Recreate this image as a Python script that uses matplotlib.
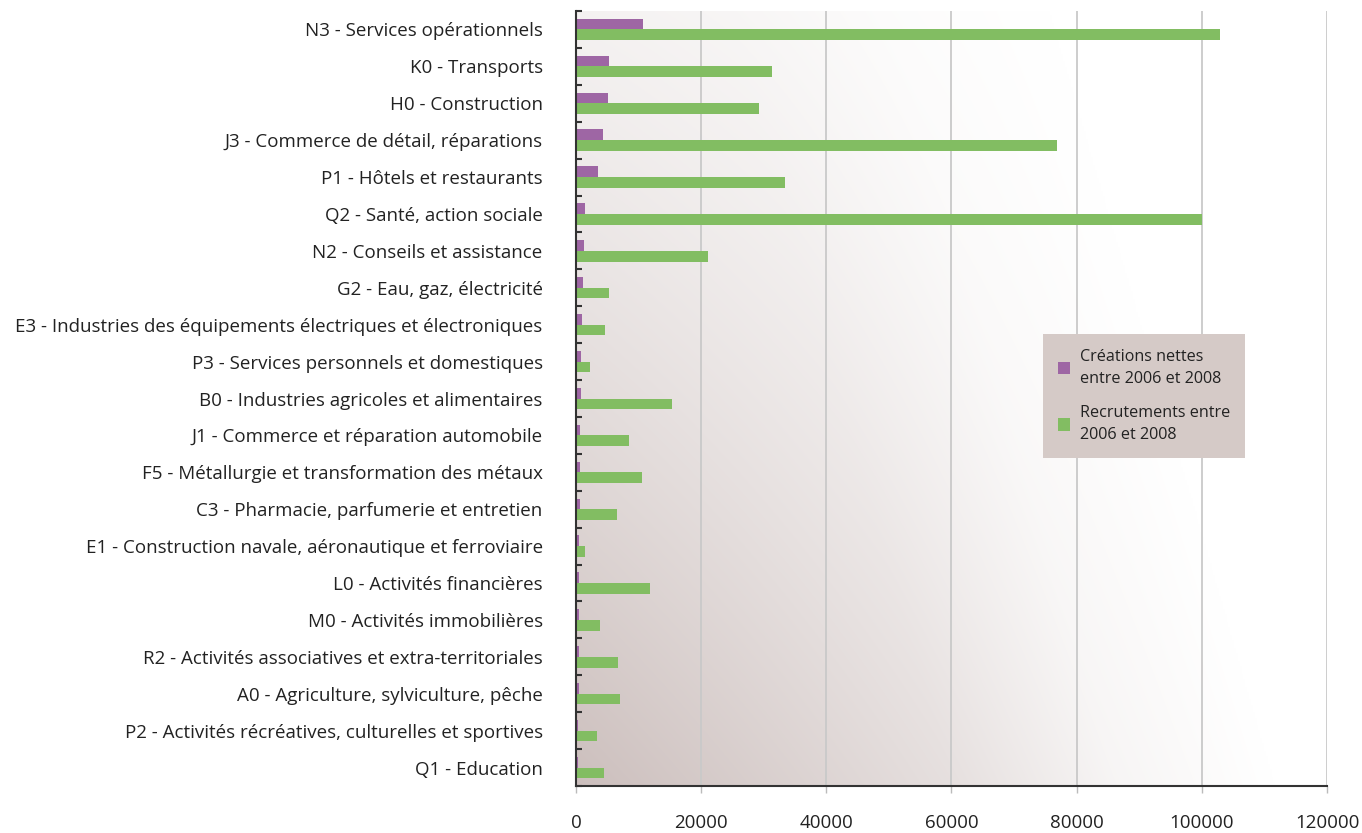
import numpy as np
import matplotlib
matplotlib.use("Agg")
import matplotlib.pyplot as plt
from matplotlib.patches import Patch

plt.rcParams['font.family'] = ['Open Sans', 'DejaVu Sans']

secteurs = [
    "N3 - Services opérationnels",
    "K0 - Transports",
    "H0 - Construction",
    "J3 - Commerce de détail, réparations",
    "P1 - Hôtels et restaurants",
    "Q2 - Santé, action sociale",
    "N2 - Conseils et assistance",
    "G2 - Eau, gaz, électricité",
    "E3 - Industries des équipements électriques et électroniques",
    "P3 - Services personnels et domestiques",
    "B0 - Industries agricoles et alimentaires",
    "J1 - Commerce et réparation automobile",
    "F5 - Métallurgie et transformation des métaux",
    "C3 - Pharmacie, parfumerie et entretien",
    "E1 - Construction navale, aéronautique et ferroviaire",
    "L0 - Activités financières",
    "M0 - Activités immobilières",
    "R2 - Activités associatives et extra-territoriales",
    "A0 - Agriculture, sylviculture, pêche",
    "P2 - Activités récréatives, culturelles et sportives",
    "Q1 - Education",
]
creations = [10700, 5300, 5100, 4300, 3500, 1400, 1300, 1100, 950, 800,
             800, 650, 650, 650, 500, 500, 500, 500, 500, 300, 300]
recrutements = [102900, 31300, 29300, 76900, 33400, 100100, 21100, 5300, 4600, 2200,
                15400, 8500, 10600, 6600, 1500, 11800, 3800, 6700, 7000, 3400, 4500]

violet = '#9e66a4'
vert = '#82bd62'

fig = plt.figure(figsize=(13.62, 8.33), dpi=100)
ax = fig.add_axes([576 / 1362, 1 - 786 / 833, 751 / 1362, 775 / 833])

# fond en dégradé : foncé en bas à gauche, blanc vers la droite
nx, ny = 400, 300
u, v = np.meshgrid(np.linspace(0, 1, nx), np.linspace(0, 1, ny))
s = u + 0.3 * v
dh = np.interp(s, [0.0, 0.5, 0.72, 0.93], [51, 25, 8, 0])
dv = 1 - 0.7 * v
k = (dh * dv)[..., None] / 51
img = 1 - k * np.array([51, 64, 66]) / 255
ax.imshow(img, extent=[0, 1, 0, 1], transform=ax.transAxes, origin='lower',
          aspect='auto', zorder=0, interpolation='bilinear')

n = len(secteurs)
y = np.arange(n)
h = 0.29
ax.barh(y - h / 2, creations, height=h, color=violet, zorder=3)
ax.barh(y + h / 2, recrutements, height=h, color=vert, zorder=3)

ax.set_xlim(0, 120000)
ax.set_ylim(n - 0.5, -0.5)
ax.set_xticks(np.arange(0, 120001, 20000))
ax.set_xticklabels([str(x) for x in range(0, 120001, 20000)])
for x in range(20000, 120001, 20000):
    ax.axvline(x, color='#c9c9c9', lw=1.3, zorder=1)

ax.set_yticks(y)
ax.set_yticklabels(secteurs)
ax.set_yticks(np.arange(-0.5, n, 1), minor=True)
ax.tick_params(axis='y', which='major', length=0, pad=24, labelsize=13.5, labelcolor='#222222')
ax.tick_params(axis='y', which='minor', direction='in', length=4.5, width=1.5, color='#333333')
ax.tick_params(axis='x', which='major', direction='out', length=5, width=1, color='#bbbbbb',
               pad=15, labelsize=13.5, labelcolor='#222222')

for sp in ['top', 'right']:
    ax.spines[sp].set_visible(False)
for sp in ['left', 'bottom']:
    ax.spines[sp].set_color('#333333')
    ax.spines[sp].set_linewidth(1.5)
    ax.spines[sp].set_zorder(4)

handles = [Patch(facecolor=violet, label="Créations nettes\nentre 2006 et 2008"),
           Patch(facecolor=vert, label="Recrutements entre\n2006 et 2008")]
leg = fig.legend(handles=handles, loc='upper left', bbox_to_anchor=(1043 / 1362, 1 - 334 / 833),
                 frameon=True, fancybox=False, facecolor='#d5cac7', edgecolor='none',
                 framealpha=1, fontsize=11.6, handlelength=0.8, handleheight=0.8,
                 handletextpad=0.6, labelspacing=1.1, borderpad=0.9, borderaxespad=0)
for txt in leg.get_texts():
    txt.set_linespacing(1.55)
    txt.set_color('#222222')

fig.savefig('out.png', dpi=100)
